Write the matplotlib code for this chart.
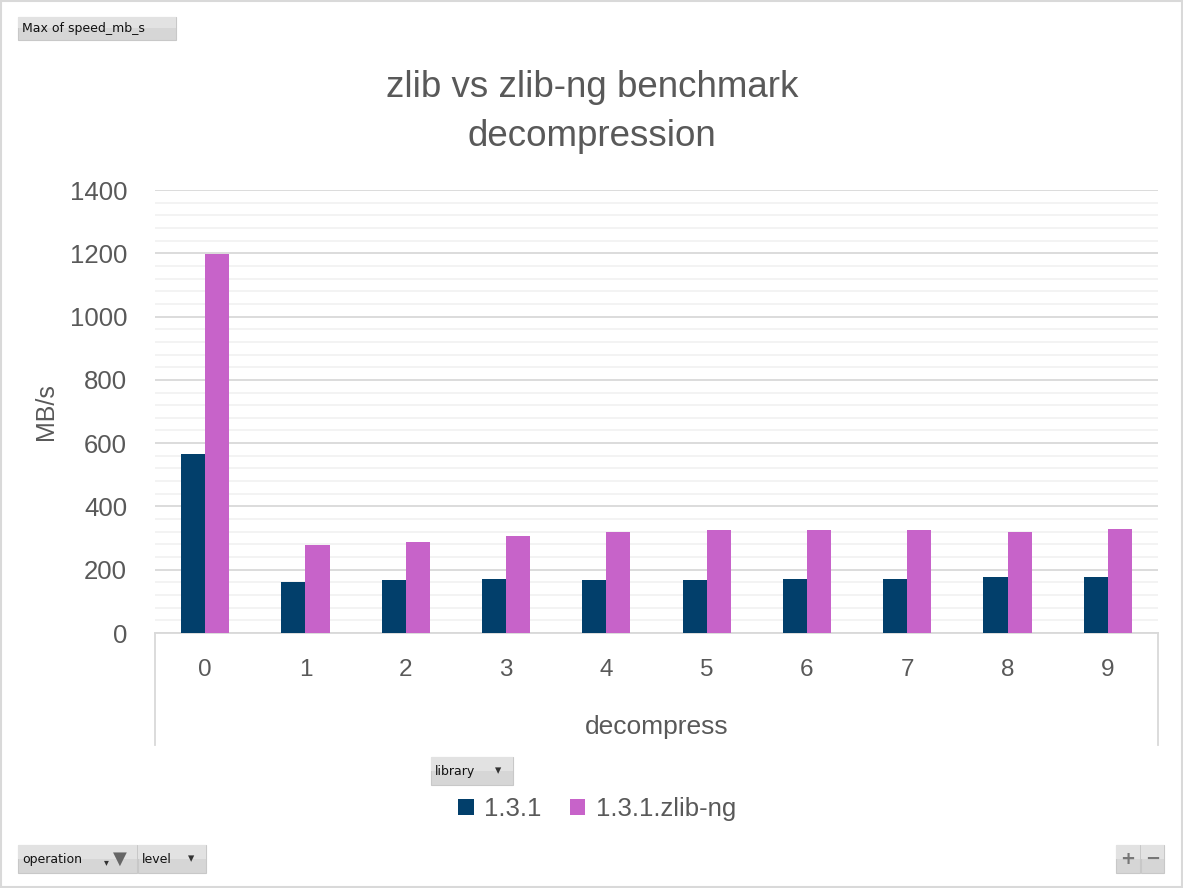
import matplotlib
matplotlib.use("Agg")
import matplotlib.pyplot as plt
import numpy as np
from matplotlib.patches import Rectangle
from matplotlib.lines import Line2D
from matplotlib.ticker import MultipleLocator

# ---- data ----
levels = ["0", "1", "2", "3", "4", "5", "6", "7", "8", "9"]
zlib_131 = [567, 162, 169, 172, 169, 169, 172, 172, 178, 178]
zlib_ng = [1197, 279, 289, 308, 320, 327, 324, 324, 320, 330]
series_names = ["1.3.1", "1.3.1.zlib-ng"]
title = "zlib vs zlib-ng benchmark\ndecompression"
y_label = "MB/s"
x_group = "decompress"

C_BLUE = "#023F6B"
C_PINK = "#C763C9"
TXT = "#595959"
FONT = ["Liberation Sans", "DejaVu Sans"]
plt.rcParams["font.family"] = FONT

W, H = 1183, 888
fig = plt.figure(figsize=(W / 100, H / 100), dpi=100)

def fx(px):
    return px / W

def fy(py):
    return 1 - py / H

# outer border
fig.add_artist(Rectangle((fx(1), fy(887)), fx(1181), 886 / H, transform=fig.transFigure,
                         fill=False, edgecolor="#D9D9D9", linewidth=1.5))

ax = fig.add_axes([fx(155), fy(633), fx(1003), 443 / H])
x = np.arange(len(levels))
bw = 0.24
ax.bar(x - bw / 2, zlib_131, bw, color=C_BLUE, label=series_names[0], zorder=3)
ax.bar(x + bw / 2, zlib_ng, bw, color=C_PINK, label=series_names[1], zorder=3)

ax.set_xlim(-0.5, len(levels) - 0.5)
ax.set_ylim(0, 1400)
ax.yaxis.set_major_locator(MultipleLocator(200))
ax.yaxis.set_minor_locator(MultipleLocator(40))
ax.grid(which="minor", axis="y", color="#F2F2F2", linewidth=1.3, zorder=0)
ax.grid(which="major", axis="y", color="#D9D9D9", linewidth=1.3, zorder=1)
for s in ["top", "right", "left"]:
    ax.spines[s].set_visible(False)
ax.spines["bottom"].set_color("#D9D9D9")
ax.spines["bottom"].set_linewidth(1.3)
ax.tick_params(axis="both", which="both", length=0, labelcolor=TXT)
ax.tick_params(axis="y", pad=20, labelsize=18.5)
ax.tick_params(axis="x", pad=19, labelsize=17.5)
ax.set_xticks(x)
ax.set_xticklabels(levels)
ax.set_yticks(np.arange(0, 1401, 200))
ax.set_ylabel(y_label, fontsize=18, color=TXT)
ax.yaxis.set_label_coords((58 - 155) / 1003, 0.5)

# category group lines
for px in (155, 1158):
    fig.add_artist(Line2D([fx(px), fx(px)], [fy(633), fy(745)], transform=fig.transFigure,
                          color="#D9D9D9", linewidth=1.3))
fig.text(fx(657), fy(727), x_group, ha="center", va="center", fontsize=19, color=TXT)

# title
fig.text(fx(592), fy(112), title, ha="center", va="center", fontsize=26.5, color=TXT,
         linespacing=1.5)

# legend
leg = fig.legend(loc="center", bbox_to_anchor=(fx(597), fy(809)), ncol=2, frameon=False,
                 fontsize=18.5, handlelength=0.62, handleheight=0.62, handletextpad=0.39,
                 columnspacing=1.09, labelcolor=TXT)

# pivot field buttons
def button(x0, y0, x1, y1, label, fs=9):
    fig.add_artist(Rectangle((fx(x0), fy(y1)), fx(x1 - x0), (y1 - y0) / H,
                             transform=fig.transFigure, facecolor="#D6D6D6",
                             edgecolor="#C8C8C8", linewidth=0.8))
    fig.add_artist(Rectangle((fx(x0), fy((y0 + y1) / 2)), fx(x1 - x0), (y1 - y0) / 2 / H,
                             transform=fig.transFigure, facecolor="#E2E2E2",
                             edgecolor="none"))
    fig.text(fx(x0 + 4), fy((y0 + y1) / 2), label, ha="left", va="center",
             fontsize=fs, color="#111111", family=["DejaVu Sans"])

button(18, 17, 176, 40, "Max of speed_mb_s", fs=9)
button(431, 757, 513, 785, "library", fs=9)
fig.text(fx(498), fy(771), "\u25BE", ha="center", va="center", fontsize=9, color="#333333",
         family=["DejaVu Sans"])
button(18, 845, 137, 873, "operation", fs=9)
fig.text(fx(106), fy(862), "\u25BE", ha="center", va="center", fontsize=7, color="#333333",
         family=["DejaVu Sans"])
fig.text(fx(120), fy(859), "\u25BC", ha="center", va="center", fontsize=13, color="#666666",
         family=["DejaVu Sans"])
button(138, 845, 206, 873, "level", fs=9)
fig.text(fx(191), fy(859), "\u25BE", ha="center", va="center", fontsize=9, color="#333333",
         family=["DejaVu Sans"])
button(1116, 845, 1140, 873, "")
button(1141, 845, 1164, 873, "")
fig.text(fx(1128), fy(859), "+", ha="center", va="center", fontsize=13, color="#777777",
         family=["DejaVu Sans"], fontweight="bold")
fig.text(fx(1152.5), fy(859), "\u2212", ha="center", va="center", fontsize=13, color="#777777",
         family=["DejaVu Sans"], fontweight="bold")

fig.savefig("out.png", dpi=100)
